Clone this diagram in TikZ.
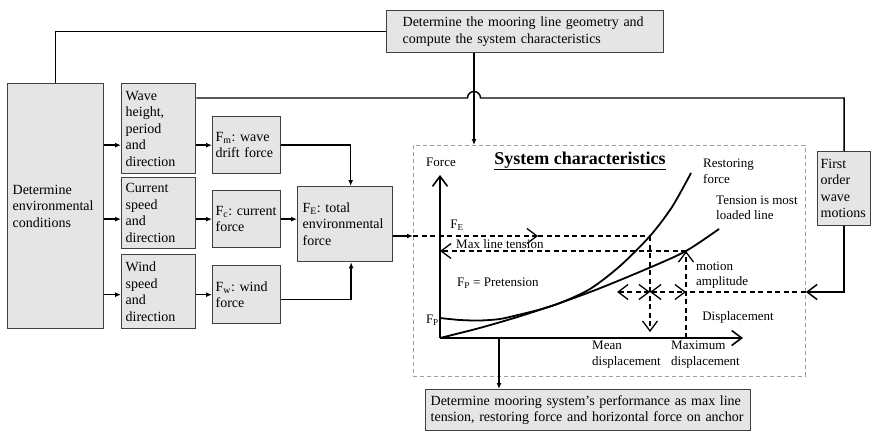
\documentclass[tikz,border=0pt]{standalone}
\usepackage{fontspec}
\setmainfont{Liberation Serif}
\usetikzlibrary{arrows.meta}
\newcommand\boxfont{\fontsize{14}{16.5}\selectfont\frenchspacing\hyphenpenalty=10000 }
\newcommand\chartfont{\fontsize{13}{15.5}\selectfont\frenchspacing}
\begin{document}
\begin{tikzpicture}[
  x=1pt,y=-1pt,
  bx/.style={draw=black!75,line width=1.3pt,fill=gray!20,anchor=north west,align=left,
             inner xsep=4pt,inner ysep=0pt,font=\boxfont},
  lbl/.style={inner sep=0pt,align=left,font=\chartfont},
  ln/.style={line width=1.4pt},
  arr/.style={line width=1.4pt,-{Latex[length=6pt,width=5pt]}},
  dl/.style={line width=1.3pt,dash pattern=on 5pt off 3.5pt},
  curve/.style={line width=1.8pt},
  OpenV/.tip={Straight Barb[length=10pt,width=15pt]}
]
  \useasboundingbox (0,0) rectangle (871,431);
  \node[bx,inner xsep=16pt,text width=245pt,minimum height=42pt] (geom) at (386,10)
    {Determine the mooring line geometry and\\compute the system characteristics};
  \node[bx,inner xsep=5pt,text width=86pt,minimum height=245pt] (env) at (7,83)
    {Determine\\environmental\\conditions};
  \node[bx,text width=66pt,minimum height=90pt] (wave)    at (121,83)  {Wave\\height,\\period\\and\\direction};
  \node[bx,text width=66pt,minimum height=71pt] (current) at (121,177) {Current\\speed\\and\\direction};
  \node[bx,text width=66pt,minimum height=74pt] (wind)    at (121,254) {Wind\\speed\\and\\direction};
  \node[bx,inner xsep=3pt,text width=62pt,minimum height=57pt] (fm) at (212,116) {F\textsubscript{m}: wave\\drift force};
  \node[bx,inner xsep=3pt,text width=62pt,minimum height=57pt] (fc) at (212,190) {F\textsubscript{c}: current\\force};
  \node[bx,inner xsep=3pt,text width=62pt,minimum height=58pt] (fw) at (212,265) {F\textsubscript{w}: wind\\force};
  \node[bx,inner xsep=5pt,text width=85pt,minimum height=75pt] (fe) at (297,186)
    {F\textsubscript{E}: total\\environmental\\force};
  \node[bx,inner xsep=3pt,text width=47pt,minimum height=74pt] (first) at (817,151)
    {First\\order\\wave\\motions};
  \node[bx,inner xsep=5pt,text width=315pt,minimum height=41pt] (perf) at (425,389)
    {Determine mooring system's performance as max line\\tension, restoring force and horizontal force on anchor};
  \node[draw=gray!75,line width=0.9pt,dash pattern=on 4pt off 3pt,anchor=north west,inner sep=0pt,
        minimum width=392pt,minimum height=231pt] (frame) at (413,145) {};

  \coordinate (hop)  at (474,98);
  \coordinate (O)    at (440,338);
  \coordinate (ytop) at (440,175);
  \coordinate (xend) at (743,338);
  \coordinate (fE)   at (650,236);
  \coordinate (fEa)  at (538,236);
  \coordinate (mt)   at (686,251);
  \coordinate (mean) at (650,332);
  \coordinate (amp)  at (650,292);
  \coordinate (ampl) at (617,292);
  \coordinate (po)   at (499,338);

  \draw[ln] (geom.west) -| (env.north);
  \draw[arr] (geom.south -| hop) -- (frame.north -| hop);
  \draw[ln] (wave.east |- hop) -- ([xshift=-6.5pt]hop) arc[start angle=180,end angle=0,radius=6.5pt]
    -- (first.north |- hop) -- (first.north);
  \draw[arr] (env.east |- fm.west) -- (wave.west |- fm.west);
  \draw[arr] (wave.east |- fm.west) -- (fm.west);
  \draw[arr] (env.east |- fc.west) -- (current.west |- fc.west);
  \draw[arr] (current.east |- fc.west) -- (fc.west);
  \draw[arr] (env.east |- fw.west) -- (wind.west |- fw.west);
  \draw[arr] (wind.east |- fw.west) -- (fw.west);
  \draw[arr] (fm.east) -| ([xshift=5.5pt]fe.north);
  \draw[arr] (fc.east) -- (fe.west |- fc.east);
  \draw[arr] ([yshift=-5pt]fw.east) -| ([xshift=6pt]fe.south);
  \draw[arr] (fe.east |- fE) -- (frame.west |- fE);
  \draw[line width=1.5pt,-OpenV] (first.south) |- (frame.east |- amp);
  \draw[arr] (po) -- (perf.north -| po);

  \draw[line width=1.6pt,-OpenV] (O) -- (ytop);
  \draw[line width=1.6pt,-OpenV] (O) -- (xend);
  \draw[curve] plot[smooth] coordinates {(440,318) (460,320) (480,320.5) (500,319) (520,314.5)
    (540,309.5) (560,303) (590,289) (620,266) (650,236) (672,207) (691,173)};
  \draw[curve] plot[smooth] coordinates {(440,338) (480,327.9) (520,316.2) (560,303) (600,288.2)
    (650,267.5) (686,251) (719,229)};

  \draw[dl,-OpenV] (frame.west |- fE) -- (fEa);
  \draw[dl] (fEa) -- (fE);
  \draw[dl,-OpenV] (mt) -- (mt -| O);
  \draw[dl,-OpenV] (fE) -- (mean);
  \draw[dl,-OpenV] (mt |- O) -- (mt);
  \draw[dl] (frame.east |- amp) -- (mt |- amp);
  \draw[dl,OpenV-OpenV] (ampl) -- (amp);
  \draw[dl,OpenV-OpenV] (amp) -- (mt |- amp);

  \node[lbl] (forcelbl) at (441,162) {Force};
  \node[inner sep=0pt,font=\fontsize{18}{20}\selectfont\bfseries] (title) at (580,161)
    {\underline{System characteristics}};
  \node[lbl,anchor=west] (restlbl) at (703,171.5) {Restoring\\force};
  \node[lbl,anchor=west] (tenslbl) at (716,208) {Tension is most\\loaded line};
  \node[lbl] (felbl) at (457,225) {F\textsubscript{E}};
  \node[lbl,anchor=west] (maxlbl) at (456,244) {Max line tension};
  \node[lbl,anchor=west] (prelbl) at (457,283) {F\textsubscript{P} = Pretension};
  \node[lbl,anchor=east] (fplbl) at (439,320) {F\textsubscript{P}};
  \node[lbl,anchor=west] (amplbl) at (696,275) {motion\\amplitude};
  \node[lbl] (displbl) at (738,317) {Displacement};
  \node[lbl,anchor=north west] (meanlbl) at (592,341) {Mean\\displacement};
  \node[lbl,anchor=north west] (maxdlbl) at (671,341) {Maximum\\displacement};
\end{tikzpicture}
\end{document}
